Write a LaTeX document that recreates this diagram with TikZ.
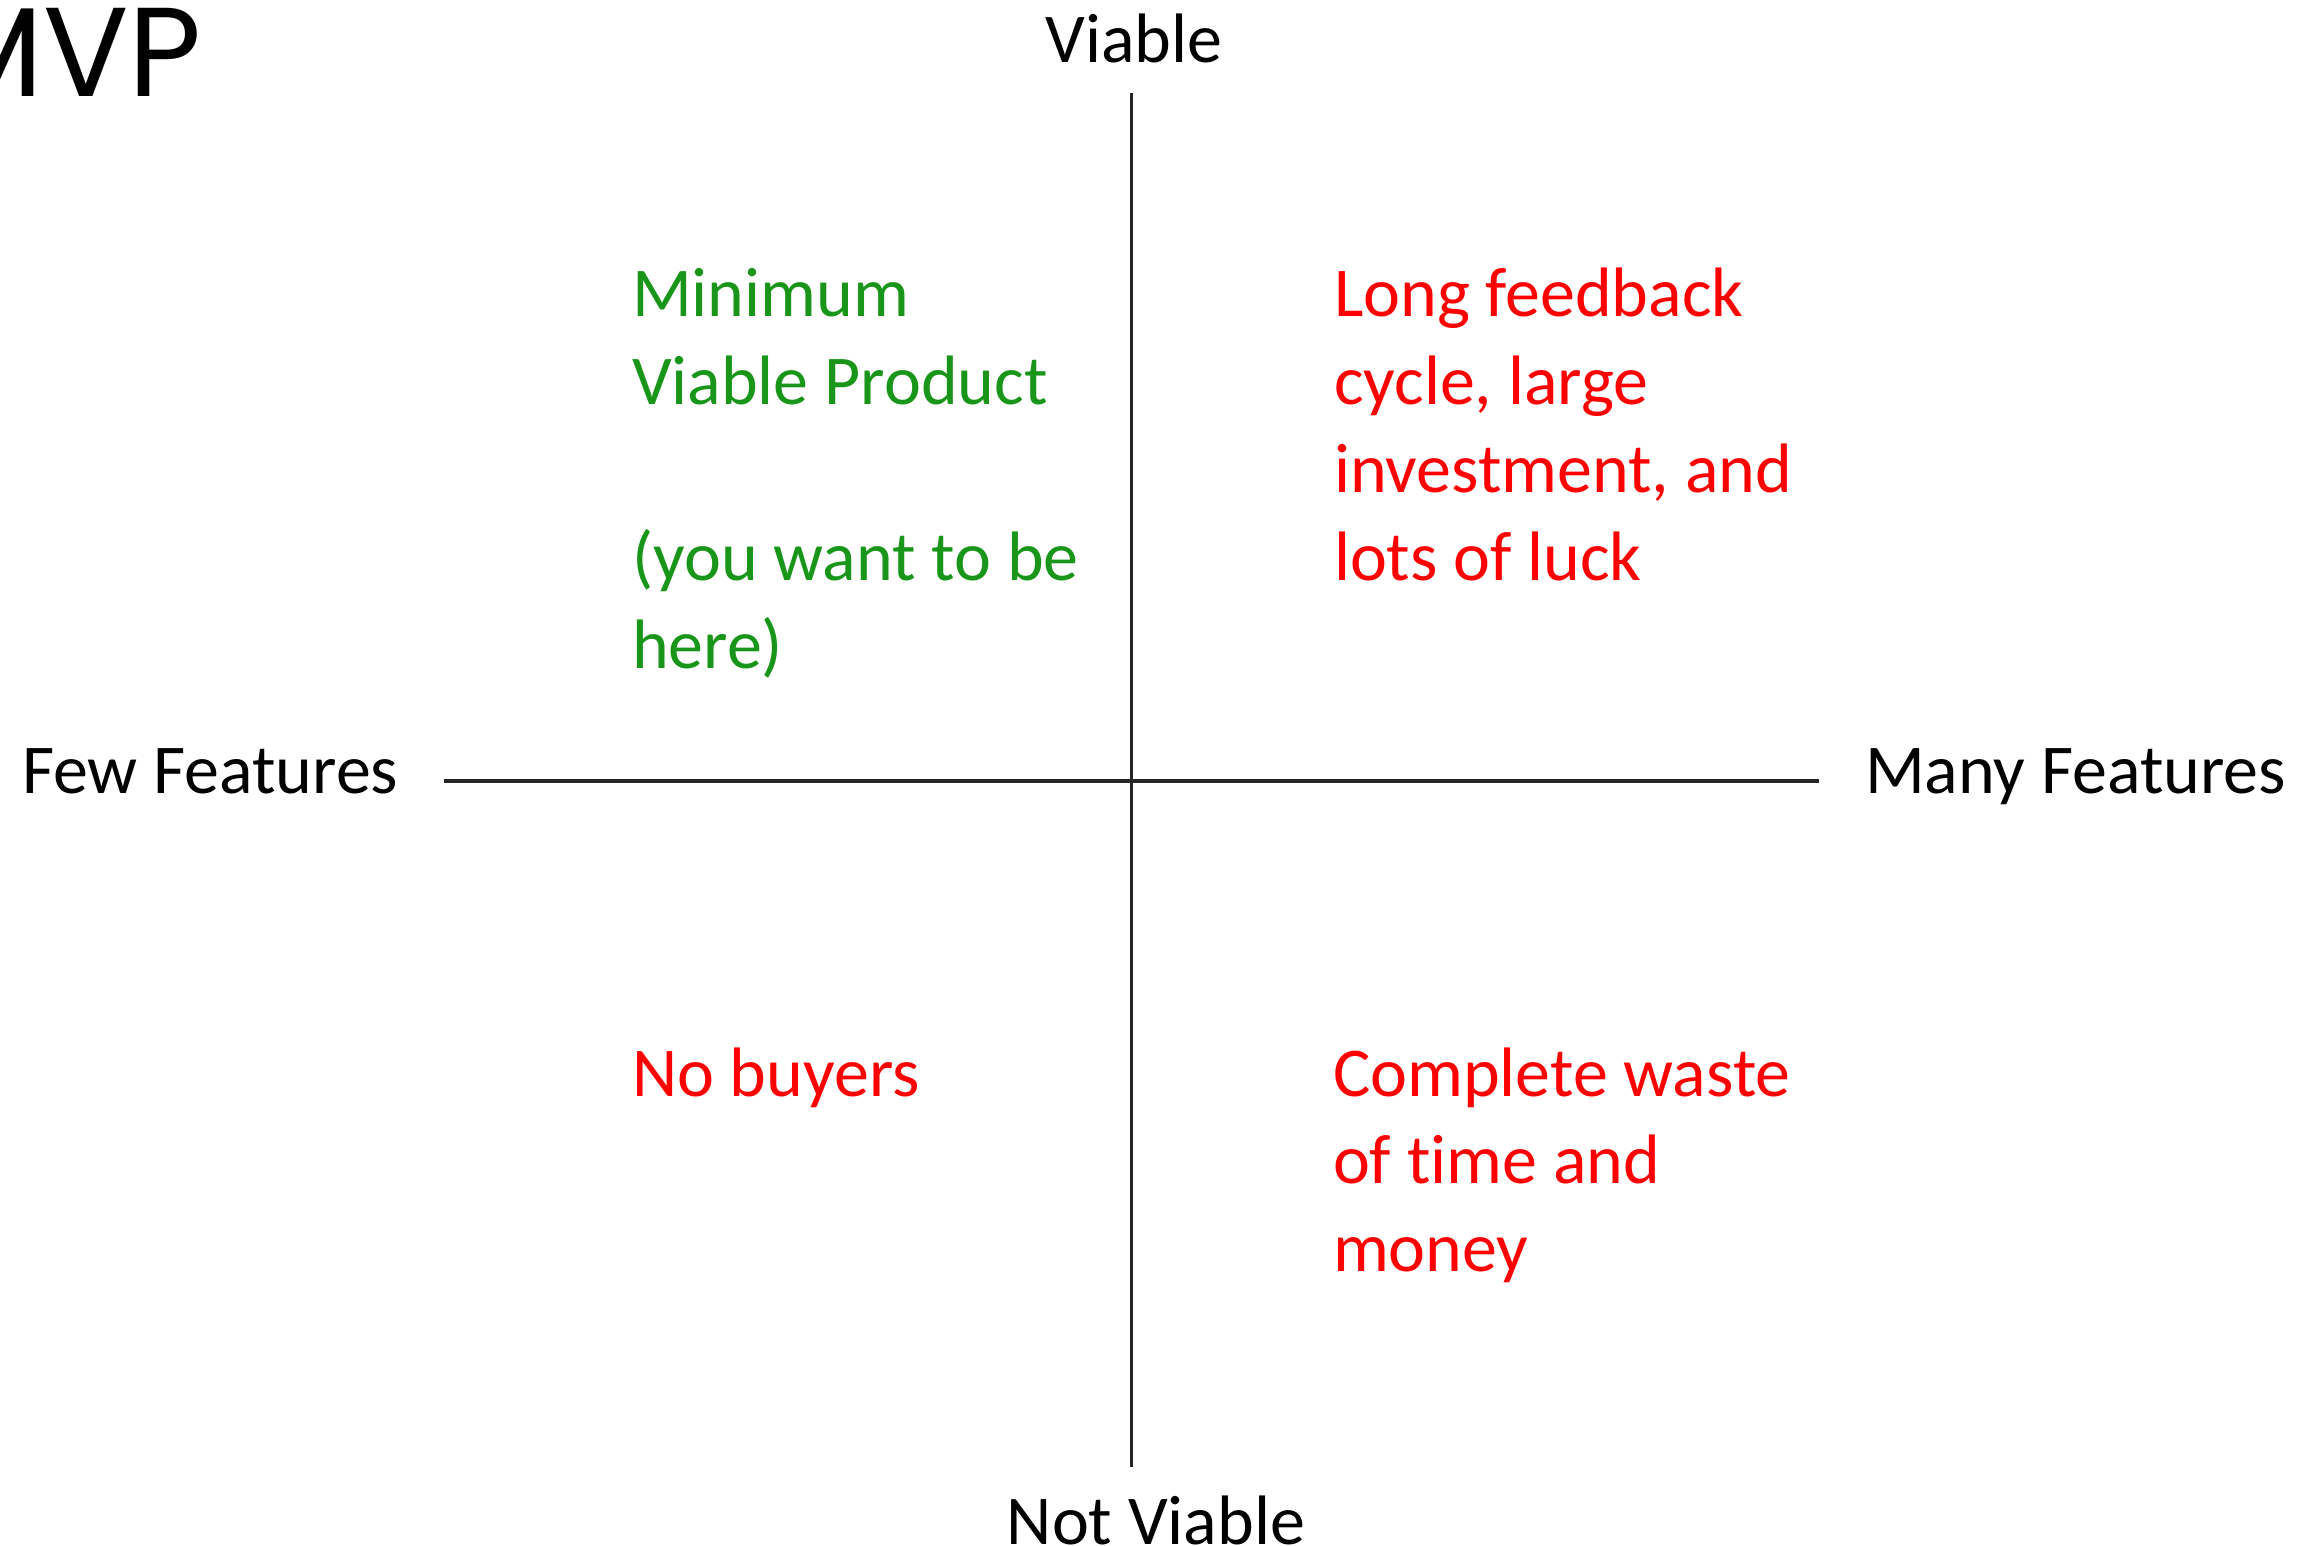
\documentclass[tikz,border=0pt]{standalone}
\usepackage{fontspec}
\setmainfont[Ligatures=NoCommon]{Carlito}
\newfontfamily\titlefont{Poppins}
\definecolor{mvpgreen}{RGB}{25,150,25}
\definecolor{mvpred}{RGB}{255,0,0}
\begin{document}
\begin{tikzpicture}[x=0.01cm,y=-0.01cm,
  lbl/.style={inner sep=0pt, outer sep=0pt, font=\fontsize{19.9}{25}\selectfont, text=black},
  quad/.style={lbl, anchor=base west},
  good/.style={quad, text=mvpgreen},
  bad/.style={quad, text=mvpred},
  axis/.style={line width=0.03cm, draw=black!85}]
\useasboundingbox (0,0) rectangle (2323,1546);
\clip (0,0) rectangle (2323,1546);
% title
\node[inner sep=0pt, anchor=base east, font=\titlefont\fontsize{36}{40}\selectfont] (title) at (203,97) {MVP};
% axes
\coordinate (top) at (1131,93);
\coordinate (bottom) at (1131,1467);
\coordinate (left) at (444,781);
\coordinate (right) at (1819,781);
\draw[axis] (top) -- (bottom);
\draw[axis] (left) -- (right);
% axis labels
\node[lbl, anchor=base] (viable) at (1134,63) {Viable};
\node[lbl, anchor=base] (notviable) at (1156,1544) {Not Viable};
\node[lbl, anchor=base west] (few) at (22,794) {Few Features};
\node[lbl, anchor=base west] (many) at (1865,794) {Many Features};
% quadrants
\node[good] (mvp) at (632,317) {\vtop{\hbox{Minimum}\hbox{Viable Product}\hbox{}\hbox{(you want to be}\hbox{here)}}};
\node[bad] (long) at (1334,317) {\vtop{\hbox{Long feedback}\hbox{cycle, large}\hbox{investment, and}\hbox{lots of luck}}};
\node[bad] (nobuy) at (632,1096) {No buyers};
\node[bad] (waste) at (1333,1096) {\vtop{\hbox{Complete waste}\hbox{of time and}\hbox{money}}};
\end{tikzpicture}
\end{document}
